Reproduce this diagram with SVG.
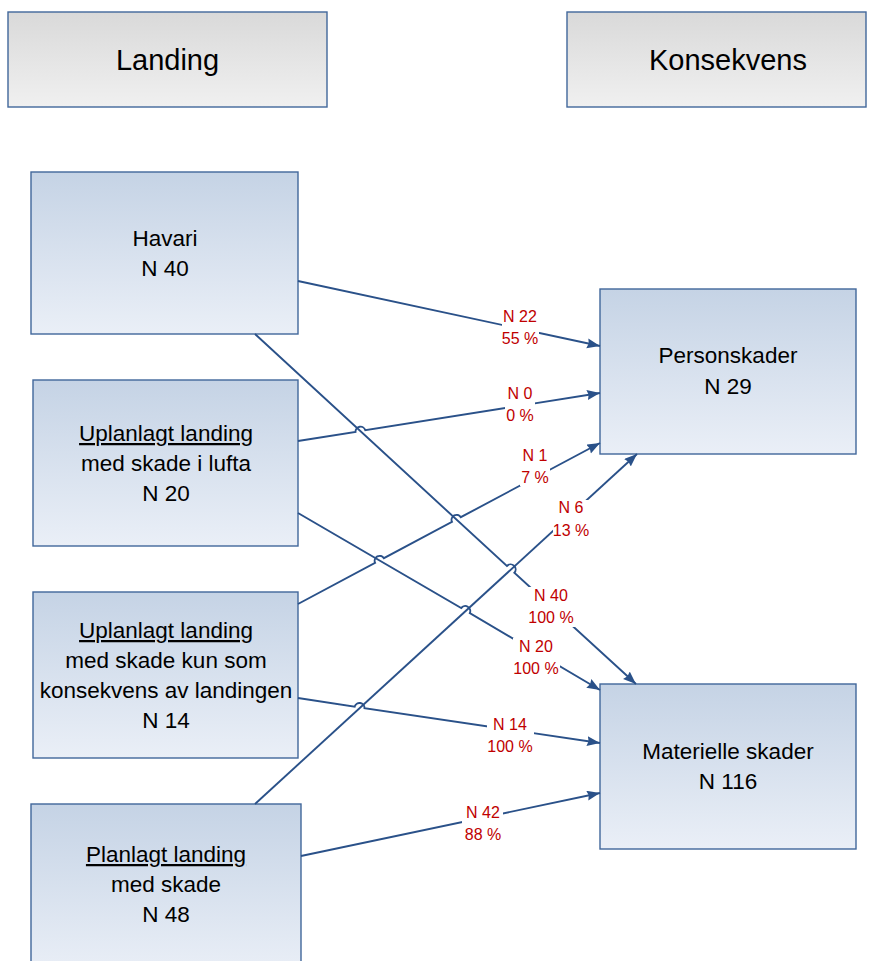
<svg xmlns="http://www.w3.org/2000/svg" width="875" height="961" viewBox="0 0 875 961">
  <style>
    .hdr { stroke: #41679b; stroke-width: 1.4; fill: url(#gHdr); }
    .box { stroke: #41679b; stroke-width: 1.4; fill: url(#gBox); }
    .t-hdr { font-family: "Liberation Sans", Arial, sans-serif; font-size: 29px; fill: #000; text-anchor: middle; }
    .t-box { font-family: "Liberation Sans", Arial, sans-serif; font-size: 22.5px; fill: #000; text-anchor: middle; }
    .u { text-decoration: underline; }
    .conn { fill: none; stroke: #2a5189; stroke-width: 1.9; marker-end: url(#arrow); }
    .bg { fill: #ffffff; }
    .lbl { font-family: "Liberation Sans", Arial, sans-serif; font-size: 16px; fill: #c00000; text-anchor: middle; }
  </style>
  <defs>
    <linearGradient id="gHdr" x1="0" y1="0" x2="0" y2="1">
      <stop offset="0" stop-color="#d9d9d9"/>
      <stop offset="1" stop-color="#f0f0f0"/>
    </linearGradient>
    <linearGradient id="gBox" x1="0" y1="0" x2="0" y2="1">
      <stop offset="0" stop-color="#c5d3e5"/>
      <stop offset="1" stop-color="#eaeff7"/>
    </linearGradient>
    <marker id="arrow" markerUnits="userSpaceOnUse" markerWidth="14" markerHeight="12" refX="13" refY="5" orient="auto">
      <path d="M0,0 L13,5 L0,10 L1.5,5 z" fill="#2a5189"/>
    </marker>
  </defs>

  <!-- column headers -->
  <g id="hdr-landing">
    <rect class="hdr" x="8" y="12" width="319" height="95"/>
    <text class="t-hdr" x="167.5" y="70">Landing</text>
  </g>
  <g id="hdr-konsekvens">
    <rect class="hdr" x="567" y="12" width="299" height="95"/>
    <text class="t-hdr" x="728" y="70">Konsekvens</text>
  </g>

  <!-- source nodes -->
  <g id="havari">
    <rect class="box" x="31" y="172" width="267" height="162"/>
    <text class="t-box" x="165" y="246">Havari</text>
    <text class="t-box" x="165" y="276">N 40</text>
  </g>
  <g id="uplanlagt-lufta">
    <rect class="box" x="33" y="380" width="265" height="166"/>
    <text class="t-box" x="166" y="441"><tspan class="u">Uplanlagt landing</tspan></text>
    <text class="t-box" x="166" y="471">med skade i lufta</text>
    <text class="t-box" x="166" y="501">N 20</text>
  </g>
  <g id="uplanlagt-kun">
    <rect class="box" x="33" y="592" width="265" height="166"/>
    <text class="t-box" x="166" y="638"><tspan class="u">Uplanlagt landing</tspan></text>
    <text class="t-box" x="166" y="668">med skade kun som</text>
    <text class="t-box" x="166" y="698">konsekvens av landingen</text>
    <text class="t-box" x="166" y="728">N 14</text>
  </g>
  <g id="planlagt">
    <rect class="box" x="31" y="804" width="270" height="170"/>
    <text class="t-box" x="166" y="862"><tspan class="u">Planlagt landing</tspan></text>
    <text class="t-box" x="166" y="892">med skade</text>
    <text class="t-box" x="166" y="922">N 48</text>
  </g>

  <!-- consequence nodes -->
  <g id="personskader">
    <rect class="box" x="600" y="289" width="256" height="165"/>
    <text class="t-box" x="728" y="363">Personskader</text>
    <text class="t-box" x="728" y="394">N 29</text>
  </g>
  <g id="materielle">
    <rect class="box" x="600" y="684" width="256" height="165"/>
    <text class="t-box" x="728" y="759">Materielle skader</text>
    <text class="t-box" x="728" y="789">N 116</text>
  </g>

  <!-- connectors, with line hops where they cross -->
  <g id="connectors">
    <path class="conn" d="M298,281 L600,346"/>
    <path class="conn" d="M298,441 L355.5,431.9 A5,5 0 0 1 365.3,430.3 L600,393"/>
    <path class="conn" d="M298,604 L375.1,562.9 A5,5 0 0 1 383.9,558.2 L452,521.9 A5,5 0 0 1 460.8,517.2 L600,443"/>
    <path class="conn" d="M255,804 L637,454"/>
    <path class="conn" d="M255,334 L506.9,566 A5,5 0 0 1 514.3,572.8 L636,684"/>
    <path class="conn" d="M298,513 L461.2,608.1 A5,5 0 0 1 469.8,613.1 L600,690"/>
    <path class="conn" d="M298,698 L354.7,706.6 A5,5 0 0 1 364.5,708.2 L600,743"/>
    <path class="conn" d="M301,856 L600,793"/>

    <!-- label backgrounds -->
    <rect class="bg" x="502" y="309" width="37" height="38"/>
    <rect class="bg" x="505" y="386" width="30" height="38"/>
    <rect class="bg" x="520" y="448" width="30" height="38"/>
    <rect class="bg" x="553" y="500" width="37" height="40"/>
    <rect class="bg" x="528" y="587" width="47" height="40"/>
    <rect class="bg" x="513" y="638" width="47" height="40"/>
    <rect class="bg" x="487" y="716" width="47" height="40"/>
    <rect class="bg" x="462" y="804" width="41" height="40"/>

    <!-- labels -->
    <text class="lbl" x="520" y="322">N 22</text>
    <text class="lbl" x="520" y="344">55 %</text>
    <text class="lbl" x="520" y="399">N 0</text>
    <text class="lbl" x="520" y="421">0 %</text>
    <text class="lbl" x="535" y="461">N 1</text>
    <text class="lbl" x="535" y="483">7 %</text>
    <text class="lbl" x="571" y="513">N 6</text>
    <text class="lbl" x="571" y="536">13 %</text>
    <text class="lbl" x="551" y="601">N 40</text>
    <text class="lbl" x="551" y="623">100 %</text>
    <text class="lbl" x="536" y="652">N 20</text>
    <text class="lbl" x="536" y="674">100 %</text>
    <text class="lbl" x="510" y="730">N 14</text>
    <text class="lbl" x="510" y="752">100 %</text>
    <text class="lbl" x="483" y="818">N 42</text>
    <text class="lbl" x="483" y="840">88 %</text>
  </g>
</svg>
